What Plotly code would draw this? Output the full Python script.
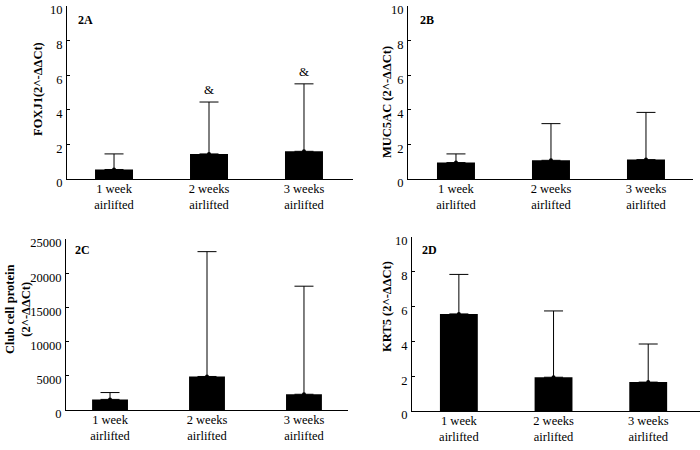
import plotly.graph_objects as go

# ---- data ----
categories = ["1 week", "2 weeks", "3 weeks"]
tick_labels = ["1 week<br>airlifted", "2 weeks<br>airlifted", "3 weeks<br>airlifted"]

foxj1_mean = [0.55, 1.45, 1.6]
foxj1_upper = [1.45, 4.45, 5.5]

muc5ac_mean = [0.95, 1.08, 1.12]
muc5ac_upper = [1.45, 3.2, 3.85]

club_mean = [1550, 4900, 2300]
club_upper = [2550, 23150, 18100]

krt5_mean = [5.58, 1.94, 1.66]
krt5_upper = [7.85, 5.75, 3.85]

sig_marks = ["", "&", "&"]

W, H = 700, 450
FONT = "Liberation Serif, Times New Roman, serif"

panels = [
    dict(mean=foxj1_mean, upper=foxj1_upper, xpx=(67, 353), ypx=(6, 179),
         xr=[-0.495, 2.516], yr=[0, 10], dtick=2, bw=0.4),
    dict(mean=muc5ac_mean, upper=muc5ac_upper, xpx=(408, 693), ypx=(6, 179),
         xr=[-0.505, 2.495], yr=[0, 10], dtick=2, bw=0.4),
    dict(mean=club_mean, upper=club_upper, xpx=(66, 348), ypx=(239, 410),
         xr=[-0.454, 2.454], yr=[0, 25000], dtick=5000, bw=0.37),
    dict(mean=krt5_mean, upper=krt5_upper, xpx=(412, 700), ypx=(237, 411),
         xr=[-0.495, 2.547], yr=[0, 10], dtick=2, bw=0.4),
]

fig = go.Figure()
layout = {}
for i, p in enumerate(panels):
    sfx = "" if i == 0 else str(i + 1)
    xa, ya = "x" + sfx, "y" + sfx
    err = [u - m for u, m in zip(p["upper"], p["mean"])]
    fig.add_trace(go.Bar(
        x=categories, y=p["mean"], xaxis=xa, yaxis=ya, width=p["bw"],
        marker=dict(color="black", line=dict(width=0)),
        error_y=dict(type="data", symmetric=False, array=err,
                     arrayminus=[0, 0, 0], color="black", thickness=1, width=9.5),
        showlegend=False, hoverinfo="skip"))
    fig.add_trace(go.Scatter(
        x=categories, y=p["mean"], xaxis=xa, yaxis=ya, mode="markers",
        marker=dict(color="black", size=4), showlegend=False, hoverinfo="skip"))
    x0, x1 = p["xpx"]
    y0, y1 = p["ypx"]
    layout["xaxis" + sfx] = dict(
        domain=[x0 / W, x1 / W], anchor=ya, type="category", range=p["xr"],
        tickvals=categories, ticktext=tick_labels, showline=True,
        linecolor="black", linewidth=1, ticks="", showgrid=False,
        zeroline=False, automargin=False, ticklabelstandoff=-2,
        tickfont=dict(family=FONT, size=12.5, color="black"))
    layout["yaxis" + sfx] = dict(
        domain=[1 - y1 / H, 1 - y0 / H], anchor=xa, range=p["yr"],
        dtick=p["dtick"], tick0=0, tickformat="d", showline=True,
        linecolor="black", automargin=False,
        linewidth=1, ticks="inside", ticklen=3, tickcolor="black",
        showgrid=False, zeroline=False, ticklabelshift=4, ticklabelstandoff=1,
        tickfont=dict(family=FONT, size=12.5, color="black"))

annotations = []
ytitles = [
    ("FOXJ1(2^-ΔΔCt)", 38, 89),
    ("MUC5AC (2^-ΔΔCt)", 387, 102),
    ("Club cell protein<br>(2^-ΔΔCt)", 18, 310),
    ("KRT5 (2^-ΔΔCt)", 387, 307),
]
for txt, px, py in ytitles:
    annotations.append(dict(
        text="<b>" + txt + "</b>", x=px / W, y=1 - py / H, xref="paper",
        yref="paper", showarrow=False, textangle=-90, xanchor="center",
        yanchor="middle", font=dict(family=FONT, size=12.5, color="black")))

plabels = [("2A", 76, 20), ("2B", 418, 20), ("2C", 73, 250), ("2D", 420, 250)]
for txt, px, py in plabels:
    annotations.append(dict(
        text="<b>" + txt + "</b>", x=px / W, y=1 - py / H, xref="paper",
        yref="paper", showarrow=False, xanchor="left", yanchor="middle",
        font=dict(family=FONT, size=12, color="black")))

for cat, up, mark in zip(categories, foxj1_upper, sig_marks):
    if mark:
        annotations.append(dict(
            text=mark, x=cat, y=up, xref="x", yref="y", showarrow=False,
            yanchor="bottom", yshift=3,
            font=dict(family=FONT, size=13, color="black")))

fig.update_layout(
    width=W, height=H, margin=dict(l=0, r=0, t=0, b=0, autoexpand=False),
    paper_bgcolor="white", plot_bgcolor="white",
    annotations=annotations, bargap=0.6, **layout)

fig.write_html("out.html", config={"displayModeBar": False},
               post_script="document.body.style.margin='0';document.body.style.padding='0';")
